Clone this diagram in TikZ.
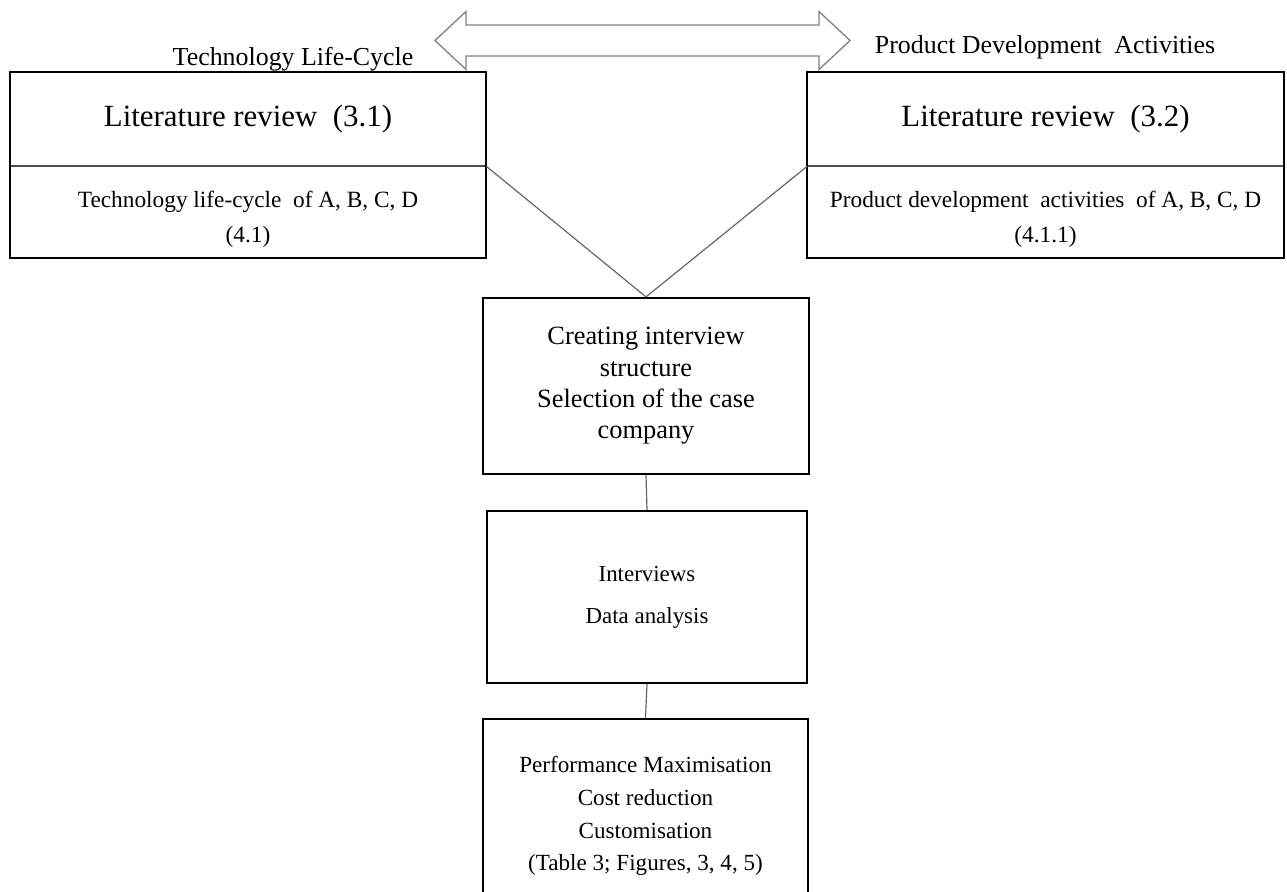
\documentclass[tikz,border=0pt]{standalone}
\usepackage{fontspec}
\setmainfont{Liberation Serif}
\usetikzlibrary{positioning}
\newcommand{\substrut}{\rule{0pt}{31bp}}

\begin{document}
\begin{tikzpicture}[
  box/.style={draw=black,line width=2.2bp,inner sep=0pt,align=center},
  part/.style={minimum width=476bp,inner sep=0pt,align=center},
  frame/.style={draw=black,line width=2.2bp},
  link/.style={draw=black!60,line width=1.2bp}]
\clip (0bp,0bp) rectangle (1287bp,-892bp);
% double arrow between the two reviews
\draw [draw=black!50,line width=1.3bp] (435bp,-40.5bp) -- (466bp,-11.5bp) -- (466bp,-25bp) -- (819bp,-25bp) -- (819bp,-11.5bp) -- (850bp,-40.5bp) -- (819bp,-69.5bp) -- (819bp,-56bp) -- (466bp,-56bp) -- (466bp,-69.5bp) -- cycle;
\node (TLC) at (293bp,-65bp)[anchor=base,font=\fontsize{26}{30}\selectfont] {Technology Life-Cycle};
\node (PDA) at (1045bp,-53bp)[anchor=base,font=\fontsize{26}{30}\selectfont] {Product Development~ Activities};
% literature review boxes
\node (L1) at (248bp,-119bp)[part,minimum height=94bp,font=\fontsize{31}{36}\selectfont] {Literature review~ (3.1)};
\node (L1b) [part,below=0pt of L1,minimum height=91bp,font=\fontsize{23.4}{35}\selectfont] {\substrut Technology life-cycle~ of A, B, C, D\\(4.1)};
\node (L2) at (1045.5bp,-119bp)[part,minimum height=94bp,font=\fontsize{31}{36}\selectfont] {Literature review~ (3.2)};
\node (L2b) [part,below=0pt of L2,minimum height=91bp,font=\fontsize{23.4}{35}\selectfont] {\substrut Product development~ activities~ of A, B, C, D\\(4.1.1)};
\draw [draw=black!70,line width=1.6bp] (L1.south west) -- (L1.south east);
\draw [draw=black!70,line width=1.6bp] (L2.south west) -- (L2.south east);
\draw [frame] (L1.north west) rectangle (L1b.south east);
\draw [frame] (L2.north west) rectangle (L2b.south east);
% method steps
\node (create) at (646bp,-386bp)[box,minimum width=326bp,minimum height=176bp,font=\fontsize{26.5}{31.5}\selectfont] {Creating interview\\structure\\Selection of the case\\company};
\node (interview) at (647bp,-597bp)[box,minimum width=320bp,minimum height=172bp,font=\fontsize{23}{42}\selectfont] {Interviews\\Data analysis};
\node (result) at (645.5bp,-816bp)[box,minimum width=325bp,minimum height=194bp,font=\fontsize{23.2}{33}\selectfont] {Performance Maximisation\\Cost reduction\\Customisation\\(Table 3; Figures, 3, 4, 5)};
\draw [link] (L1.south east) -- (create.north);
\draw [link] (L2.south west) -- (create.north);
\draw [link] (create.south) -- (interview.north);
\draw [link] (interview.south) -- (result.north);
\end{tikzpicture}
\end{document}
